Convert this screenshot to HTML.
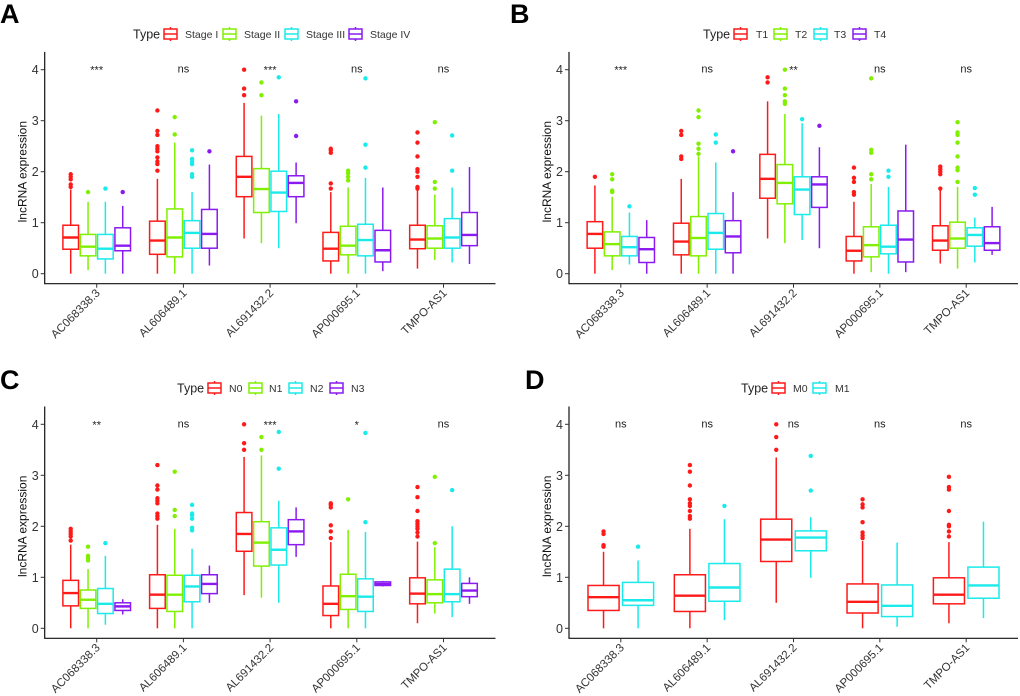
<!DOCTYPE html>
<html><head><meta charset="utf-8"><style>
html,body{margin:0;padding:0;background:#fff;width:1020px;height:696px;overflow:hidden}
svg{display:block;font-family:"Liberation Sans",Arial,sans-serif}
</style></head><body>
<svg id="fig" width="1020" height="696" viewBox="0 0 1020 696" xmlns="http://www.w3.org/2000/svg"></svg>
<script>
const genes = ["AC068338.3","AL606489.1","AL691432.2","AP000695.1","TMPO-AS1"];
const yTicks = [0,1,2,3,4];
const groupsA = ["Stage I","Stage II","Stage III","Stage IV"];
const groupsB = ["T1","T2","T3","T4"];
const groupsC = ["N0","N1","N2","N3"];
const groupsD = ["M0","M1"];
const sigA = ["***","ns","***","ns","ns"];
const sigB = ["***","ns","**","ns","ns"];
const sigC = ["**","ns","***","*","ns"];
const sigD = ["ns","ns","ns","ns","ns"];
// stats: [lowerWhisker, q1, median, q3, upperWhisker] per gene, per group
const statsA = [
 [[0,0.48,0.71,0.95,1.65],[0.07,0.35,0.53,0.77,1.41],[0,0.29,0.49,0.77,1.41],[0,0.45,0.55,0.9,1.33]],
 [[0,0.38,0.65,1.03,1.86],[0,0.33,0.71,1.27,2.57],[0,0.5,0.8,1.04,1.6],[0.16,0.5,0.78,1.26,2.14]],
 [[0.69,1.51,1.9,2.3,3.35],[0.6,1.2,1.66,2.06,3.1],[0.5,1.22,1.59,2.01,3.13],[0.99,1.51,1.78,1.92,2.18]],
 [[0,0.25,0.49,0.81,1.6],[0,0.37,0.55,0.93,1.69],[0,0.35,0.66,0.97,1.88],[0.05,0.23,0.46,0.85,1.69]],
 [[0.1,0.49,0.67,0.95,1.65],[0.27,0.5,0.69,0.94,1.55],[0.22,0.5,0.71,1.08,1.69],[0.19,0.55,0.76,1.2,2.09]]];
const outA = [
 [[1.7,1.75,1.85,1.9,1.95],[1.6],[1.67],[1.6]],
 [[2.02,2.15,2.2,2.28,2.4,2.45,2.5,2.72,2.8,3.2],[2.73,3.07],[1.9,1.95,2.15,2.2,2.25,2.42],[2.4]],
 [[3.5,3.63,4.0],[3.5,3.75],[3.85],[2.7,3.38]],
 [[1.67,1.77,2.37,2.42,2.45],[1.83,1.9,1.97,2.02],[2.08,2.53,3.83],[]],
 [[1.67,1.7,1.9,2.0,2.05,2.3,2.57,2.77],[1.67,1.8,2.97],[2.02,2.71],[]]];
const statsB = [
 [[0,0.5,0.78,1.02,1.73],[0.07,0.35,0.58,0.82,1.51],[0.18,0.35,0.52,0.73,1.2],[0,0.22,0.48,0.71,1.05]],
 [[0,0.37,0.63,0.99,1.86],[0,0.35,0.7,1.12,2.3],[0,0.48,0.8,1.18,2.18],[0,0.41,0.73,1.04,1.6]],
 [[0.69,1.48,1.86,2.34,3.38],[0.6,1.37,1.78,2.14,3.13],[0.66,1.16,1.65,1.9,2.95],[0.5,1.3,1.75,1.9,2.48]],
 [[0,0.25,0.45,0.73,1.41],[0.03,0.33,0.56,0.92,1.76],[0,0.39,0.53,0.95,1.7],[0.03,0.23,0.67,1.23,2.53]],
 [[0.2,0.46,0.65,0.94,1.65],[0.1,0.5,0.69,1.01,1.7],[0.22,0.54,0.76,0.9,1.1],[0.37,0.46,0.6,0.92,1.31]]];
const outB = [
 [[1.9],[1.6,1.63,1.85,1.95],[1.32],[]],
 [[2.25,2.3,2.72,2.8],[2.35,2.45,2.55,3.07,3.2],[2.57,2.73],[2.4]],
 [[3.75,3.85],[3.33,3.38,3.5,3.63,4.0],[3.03],[2.9]],
 [[1.55,1.6,1.8,1.88,2.08],[1.85,1.95,2.37,2.43,3.83],[1.9,2.02],[]],
 [[1.67,1.95,2.0,2.05,2.1],[1.8,2.03,2.08,2.3,2.57,2.72,2.77,2.97],[1.55,1.68],[]]];
const statsC = [
 [[0,0.44,0.69,0.94,1.64],[0,0.39,0.56,0.75,1.16],[0.07,0.29,0.48,0.78,1.42],[0.27,0.35,0.43,0.5,0.57]],
 [[0,0.39,0.66,1.05,2.03],[0,0.33,0.66,1.04,1.95],[0,0.52,0.82,1.04,1.56],[0.5,0.68,0.87,1.05,1.23]],
 [[0.65,1.51,1.85,2.27,3.36],[0.6,1.22,1.68,2.09,3.39],[0.5,1.24,1.54,1.97,2.5],[1.4,1.64,1.9,2.13,2.37]],
 [[0,0.25,0.48,0.83,1.69],[0,0.37,0.63,1.06,1.93],[0,0.33,0.62,0.97,1.89],[0.82,0.84,0.87,0.91,0.93]],
 [[0.1,0.48,0.68,0.99,1.7],[0.29,0.5,0.67,0.95,1.59],[0.22,0.52,0.67,1.16,2.0],[0.48,0.62,0.74,0.88,1.0]]];
const outC = [
 [[1.72,1.8,1.85,1.9,1.95],[1.33,1.38,1.42,1.6],[1.67],[]],
 [[2.15,2.2,2.25,2.45,2.5,2.55,2.72,2.8,3.2],[2.2,2.32,3.07],[1.92,1.97,2.15,2.22,2.25,2.42],[]],
 [[3.5,3.63,4.0],[3.5,3.75],[3.13,3.85],[]],
 [[1.77,1.9,2.02,2.37,2.42,2.45],[2.53],[2.08,3.83],[]],
 [[1.8,1.88,1.95,2.0,2.05,2.1,2.3,2.57,2.77],[1.67,2.97],[2.71],[]]];
const statsD = [
 [[0,0.35,0.61,0.84,1.5],[0,0.45,0.55,0.9,1.33]],
 [[0,0.33,0.64,1.05,1.95],[0.16,0.53,0.8,1.27,2.14]],
 [[0.5,1.31,1.74,2.14,3.35],[0.99,1.52,1.78,1.91,2.18]],
 [[0,0.3,0.52,0.87,1.71],[0.03,0.23,0.44,0.85,1.68]],
 [[0.1,0.48,0.66,0.99,1.69],[0.2,0.59,0.84,1.2,2.09]]];
const outD = [
 [[1.6,1.63,1.85,1.9],[1.6]],
 [[2.15,2.2,2.3,2.4,2.45,2.53,2.8,3.07,3.2],[2.4]],
 [[3.5,3.75,4.0],[2.7,3.38]],
 [[1.77,1.82,1.88,2.08,2.37,2.43,2.53],[]],
 [[1.8,1.9,2.0,2.03,2.3,2.72,2.77,2.97],[]]];

const C4 = ["#FF1A1A","#80F000","#1AEAEA","#8A1AF0"];
const C2 = ["#FF1A1A","#1AEAEA"];
const NS = "http://www.w3.org/2000/svg";
const svg = document.getElementById("fig");
function mk(tag, attrs, parent){const e=document.createElementNS(NS,tag);for(const k in attrs)e.setAttribute(k,attrs[k]);(parent||svg).appendChild(e);return e;}

const panels = [
 {id:"a",letter:"A",lx:0,ly:23,ax:44.7,right:495.5,y0:273.7,ppu:51,groups:groupsA,stats:statsA,outs:outA,sig:sigA,cols:C4,legY:34,typeX:133,keyX:[164,223,285,349],txtX:[185,244,306,370]},
 {id:"b",letter:"B",lx:510,ly:23,ax:569,right:1018,y0:273.7,ppu:51,groups:groupsB,stats:statsB,outs:outB,sig:sigB,cols:C4,legY:34,typeX:703,keyX:[734,774,814,853],txtX:[756,795,834,874]},
 {id:"c",letter:"C",lx:0,ly:389,ax:44.7,right:495.5,y0:628.3,ppu:51,groups:groupsC,stats:statsC,outs:outC,sig:sigC,cols:C4,legY:388,typeX:177,keyX:[208,249,289,330],txtX:[229,269,310,351]},
 {id:"d",letter:"D",lx:525,ly:389,ax:569,right:1018,y0:628.3,ppu:51,groups:groupsD,stats:statsD,outs:outD,sig:sigD,cols:C2,legY:388,typeX:741,keyX:[772,813],txtX:[793,835]}
];

panels.forEach(p=>{
 const g = mk("g",{});
 
 
 const step = (p.right-p.ax)/5.2;
 const xs = v => p.ax + (v-0.4)*step;
 const ys = v => p.y0 - v*p.ppu;
 const axisBottom = p.y0 + 10;
 const axisTop = p.y0 - 4.35*p.ppu;
 const lab = mk("text",{x:p.lx,y:p.ly,"font-size":27,"font-weight":"bold",fill:"#000"},g);
 lab.textContent = p.letter;
 
 
 // legend
 const leg = mk("g",{},g);
 
 
 const tt = mk("text",{x:p.typeX,y:p.legY+4.5,"font-size":12.5,fill:"#222"},leg);
 tt.textContent="Type";
 
 
 p.groups.forEach((gr,i)=>{
  const ent = mk("g",{},leg);
  
  
  const kx=p.keyX[i], c=p.cols[i];
  mk("rect",{x:kx,y:p.legY-5,width:13,height:10,fill:"none",stroke:c,"stroke-width":1.5},ent);
  mk("line",{x1:kx,x2:kx+13,y1:p.legY,y2:p.legY,stroke:c,"stroke-width":1.5},ent);
  mk("line",{x1:kx+6.5,x2:kx+6.5,y1:p.legY-7,y2:p.legY-5,stroke:c,"stroke-width":1.5},ent);
  mk("line",{x1:kx+6.5,x2:kx+6.5,y1:p.legY+5,y2:p.legY+7,stroke:c,"stroke-width":1.5},ent);
  const t=mk("text",{x:p.txtX[i],y:p.legY+4,"font-size":10.5,fill:"#333"},ent);
  t.textContent=gr;
 });
 // axes
 const ax = mk("path",{d:`M${p.ax},${axisTop} V${axisBottom} H${p.right}`,fill:"none",stroke:"#111","stroke-width":1.2},g);
 
 
 yTicks.forEach(v=>{
  mk("line",{x1:p.ax-4,x2:p.ax,y1:ys(v),y2:ys(v),stroke:"#333","stroke-width":1},g);
  const t=mk("text",{x:p.ax-6,y:ys(v)+4.5,"font-size":12.5,"text-anchor":"end",fill:"#333"},g);
  t.textContent=v;
  
  
 });
 const yt=mk("text",{x:0,y:0,"font-size":12,"text-anchor":"middle",fill:"#111",transform:`translate(${p.ax-18},${ys(2)}) rotate(-90)`},g);
 yt.textContent="lncRNA expression";
 
 
 const n = p.groups.length;
 const dw = 0.8*step/n, bw = dw*0.9;
 genes.forEach((gn,gi)=>{
  const cx = xs(gi+1);
  mk("line",{x1:cx,x2:cx,y1:axisBottom,y2:axisBottom+4,stroke:"#333","stroke-width":1},g);
  const tl=mk("text",{x:0,y:0,"font-size":11.5,"text-anchor":"end",fill:"#333",transform:`translate(${cx+4},${axisBottom+10}) rotate(-45)`},g);
  tl.textContent=gn;
  
  
  const s=mk("text",{x:cx,y:ys(4)+(p.sig[gi]==="ns"?3:4),"font-size":11,"text-anchor":"middle",fill:"#222"},g);
  s.textContent=p.sig[gi];
  
  
  p.groups.forEach((gr,k)=>{
   const st=p.stats[gi][k], c=p.cols[k];
   const bx = cx - 0.4*step + dw*(k+0.5);
   const bg=mk("g",{},g);
   
   
   mk("line",{x1:bx,x2:bx,y1:ys(st[0]),y2:ys(st[1]),stroke:c,"stroke-width":1.5},bg);
   mk("line",{x1:bx,x2:bx,y1:ys(st[3]),y2:ys(st[4]),stroke:c,"stroke-width":1.5},bg);
   mk("rect",{x:bx-bw/2,y:ys(st[3]),width:bw,height:Math.max(ys(st[1])-ys(st[3]),0.5),fill:"#fff",stroke:c,"stroke-width":1.5},bg);
   mk("line",{x1:bx-bw/2,x2:bx+bw/2,y1:ys(st[2]),y2:ys(st[2]),stroke:c,"stroke-width":2.4},bg);
   p.outs[gi][k].forEach(o=>{
    mk("circle",{cx:bx,cy:ys(o),r:2.2,fill:c},bg);
   });
  });
 });
});
</script>
</body></html>
